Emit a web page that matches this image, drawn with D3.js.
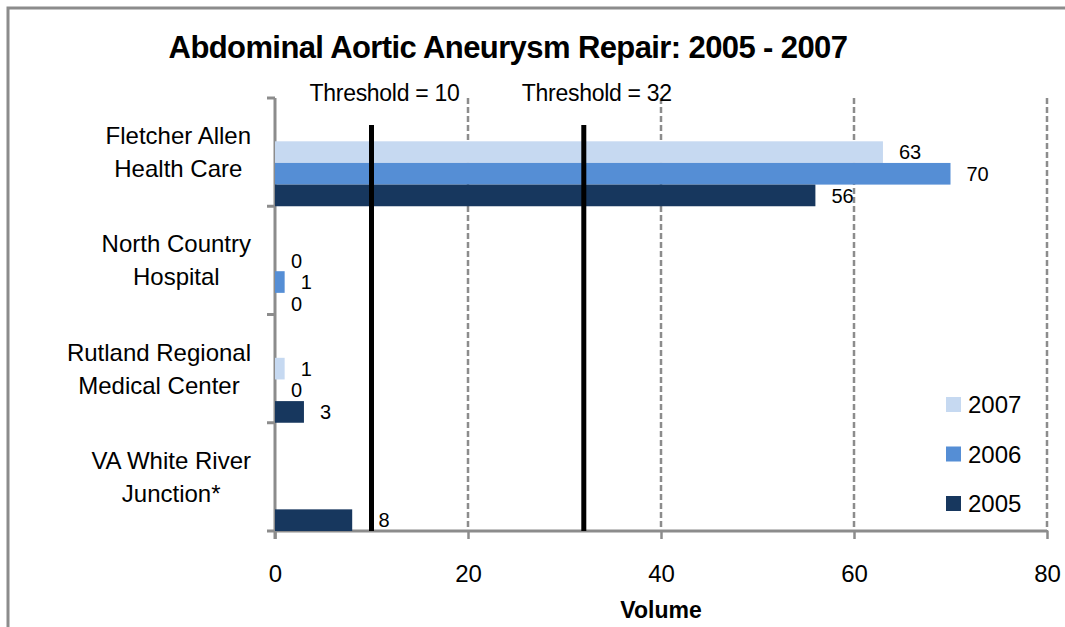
<!DOCTYPE html>
<html>
<head>
<meta charset="utf-8">
<script src="https://cdn.jsdelivr.net/npm/d3@7"></script>
<style>
  body { margin: 0; background: #fff; }
  svg { display: block; font-family: "Liberation Sans", Arial, sans-serif; }
</style>
</head>
<body>
<svg id="chart" width="1065" height="627"></svg>
<script>
// chart data
const categories = ['Fletcher Allen Health Care', 'North Country Hospital', 'Rutland Regional Medical Center', 'VA White River Junction*'];
const categoryLines = [['Fletcher Allen', 'Health Care'], ['North Country', 'Hospital'], ['Rutland Regional', 'Medical Center'], ['VA White River', 'Junction*']];
const years = ['2007', '2006', '2005'];
const values2007 = [63, 0, 1, null];
const values2006 = [70, 1, 0, null];
const values2005 = [56, 0, 3, 8];
const thresholds = [10, 32];
const xTicks = [0, 20, 40, 60, 80];
const colors = ['#c6d9f1', '#558ed5', '#17375e'];

const series = [values2007, values2006, values2005];

const margin = { top: 98, right: 18, bottom: 96, left: 275 };
const width = 1065 - margin.left - margin.right;
const height = 627 - margin.top - margin.bottom;

const svg = d3.select('#chart');

// outer frame
svg.append('path')
  .attr('d', 'M8,627 L8,8 L1065,8')
  .attr('fill', 'none')
  .attr('stroke', '#8c8c8c')
  .attr('stroke-width', 3);

svg.append('text')
  .attr('x', 508)
  .attr('y', 58)
  .attr('text-anchor', 'middle')
  .attr('font-size', 31)
  .attr('font-weight', 'bold')
  .attr('letter-spacing', -0.6)
  .text('Abdominal Aortic Aneurysm Repair: 2005 - 2007');

const x = d3.scaleLinear()
  .domain([0, 80])
  .range([0, width]);

const y = d3.scaleBand()
  .domain(categories)
  .range([0, height])
  .padding(0);

const bw = y.bandwidth();
const yInner = d3.scaleBand()
  .domain(years)
  .range([bw * 0.4, bw]);

const chart = svg.append('g')
  .attr('transform', `translate(${margin.left}, ${margin.top})`);

// dashed gridlines
chart.selectAll('.grid')
  .data(xTicks.filter(d => d > 0))
  .enter()
  .append('line')
  .attr('class', 'grid')
  .attr('x1', d => x(d))
  .attr('x2', d => x(d))
  .attr('y1', 0)
  .attr('y2', height)
  .attr('stroke', '#8c8c8c')
  .attr('stroke-width', 2.5)
  .attr('stroke-dasharray', '6,3');

// x axis
const xAxis = d3.axisBottom(x)
  .tickValues(xTicks)
  .tickSize(8)
  .tickPadding(26)
  .tickFormat(d3.format('d'));

const gx = chart.append('g')
  .attr('transform', `translate(0, ${height})`)
  .call(xAxis);
gx.select('.domain').remove();
gx.selectAll('.tick line').attr('stroke', '#8c8c8c').attr('stroke-width', 2.5);
gx.selectAll('.tick text')
  .attr('font-size', 24)
  .attr('font-family', '"Liberation Sans", Arial, sans-serif')
  .attr('fill', '#000');

chart.append('line')
  .attr('x1', -8)
  .attr('x2', x(80))
  .attr('y1', height)
  .attr('y2', height)
  .attr('stroke', '#8c8c8c')
  .attr('stroke-width', 3);

// y axis
chart.append('line')
  .attr('x1', 0)
  .attr('x2', 0)
  .attr('y1', 0)
  .attr('y2', height + 8)
  .attr('stroke', '#8c8c8c')
  .attr('stroke-width', 3);

chart.selectAll('.ytick')
  .data(categories)
  .enter()
  .append('line')
  .attr('class', 'ytick')
  .attr('x1', -8)
  .attr('x2', 0)
  .attr('y1', d => y(d))
  .attr('y2', d => y(d))
  .attr('stroke', '#8c8c8c')
  .attr('stroke-width', 3);

// category labels: block right aligned, lines centred in the block
categories.forEach((c, i) => {
  const cy = y(c) + bw / 2;
  const g = chart.append('g');
  const texts = categoryLines[i].map((line, j) => g.append('text')
    .attr('y', cy - 8 + j * 33)
    .attr('font-size', 24)
    .attr('text-anchor', 'middle')
    .text(line));
  const w = d3.max(texts, t => t.node().getComputedTextLength());
  texts.forEach(t => t.attr('x', -24 - w / 2));
});

// label position: push past a threshold line if it would sit on it
const labelX = v => {
  let lx = x(v) + 16;
  thresholds.forEach(t => {
    if (lx < x(t) + 6 && lx + 14 > x(t) - 3) lx = x(t) + 7;
  });
  return lx;
};

// bars
series.forEach((vals, s) => {
  const yr = years[s];
  const pts = categories.map((c, i) => ({ c, v: vals[i] })).filter(d => d.v !== null);

  chart.selectAll(`.bar-${yr}`)
    .data(pts)
    .enter()
    .append('rect')
    .attr('class', `bar-${yr}`)
    .attr('x', 0)
    .attr('y', d => y(d.c) + yInner(yr))
    .attr('width', d => x(d.v))
    .attr('height', yInner.bandwidth())
    .attr('fill', colors[s]);

  chart.selectAll(`.lab-${yr}`)
    .data(pts)
    .enter()
    .append('text')
    .attr('class', `lab-${yr}`)
    .attr('x', d => labelX(d.v))
    .attr('y', d => y(d.c) + yInner(yr) + yInner.bandwidth() / 2)
    .attr('dy', '0.36em')
    .attr('font-size', 20)
    .text(d => d.v);
});

// threshold lines
chart.selectAll('.thr')
  .data(thresholds)
  .enter()
  .append('line')
  .attr('class', 'thr')
  .attr('x1', d => x(d))
  .attr('x2', d => x(d))
  .attr('y1', 27)
  .attr('y2', height)
  .attr('stroke', '#000')
  .attr('stroke-width', 5);

chart.selectAll('.thr-label')
  .data(thresholds)
  .enter()
  .append('text')
  .attr('class', 'thr-label')
  .attr('x', d => x(d) + 13)
  .attr('y', 3)
  .attr('text-anchor', 'middle')
  .attr('font-size', 23)
  .attr('letter-spacing', -0.3)
  .text(d => `Threshold = ${d}`);

// x axis title
chart.append('text')
  .attr('x', x(40))
  .attr('y', height + 87)
  .attr('text-anchor', 'middle')
  .attr('font-size', 23)
  .attr('font-weight', 'bold')
  .text('Volume');

// legend
const legend = svg.append('g')
  .attr('transform', 'translate(946, 397)');

years.forEach((yr, i) => {
  legend.append('rect')
    .attr('x', 0)
    .attr('y', i * 49.5)
    .attr('width', 15)
    .attr('height', 15)
    .attr('fill', colors[i]);
  legend.append('text')
    .attr('x', 22)
    .attr('y', i * 49.5 + 16)
    .attr('font-size', 24)
    .text(yr);
});
</script>
</body>
</html>
